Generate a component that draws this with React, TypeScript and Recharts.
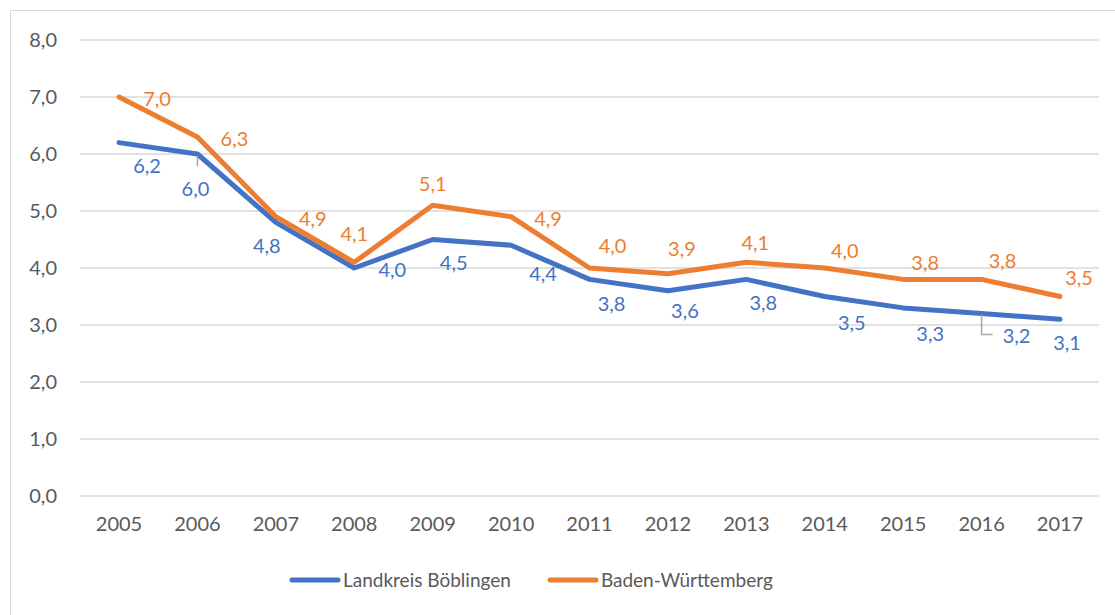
import { LineChart, Line, XAxis, YAxis, CartesianGrid, LabelList } from 'recharts';

const years = ['2005', '2006', '2007', '2008', '2009', '2010', '2011', '2012', '2013', '2014', '2015', '2016', '2017'];
const boeblingen = [6.2, 6.0, 4.8, 4.0, 4.5, 4.4, 3.8, 3.6, 3.8, 3.5, 3.3, 3.2, 3.1];
const badenWuerttemberg = [7.0, 6.3, 4.9, 4.1, 5.1, 4.9, 4.0, 3.9, 4.1, 4.0, 3.8, 3.8, 3.5];
const yTicks = [0, 1, 2, 3, 4, 5, 6, 7, 8];

// label placement relative to the point, as Excel placed them
const bwLabelOffsets = [
  [38, 1], [37, 1], [37, 1], [0, -29], [0, -22], [37, 1], [23, -23],
  [14, -26], [9, -20], [20, -18], [22, -17], [21, -19], [19, -20],
];
const lbLabelOffsets = [
  [28, 22], [-2, 34], [-9, 23], [38, 1], [21, 22], [32, 28], [22, 24],
  [17, 19], [17, 23], [27, 25], [27, 25], [35, 21], [7, 23],
];

const data = years.map((year, i) => ({
  year,
  lb: boeblingen[i],
  bw: badenWuerttemberg[i],
}));

const BLUE = '#4472C4';
const ORANGE = '#ED7D31';
const GREY_TEXT = '#595959';
const GRID = '#D9D9D9';
const FONT = 'Lato, "Open Sans", sans-serif';

const fmt = (v: number) => v.toFixed(1).replace('.', ',');

function makeLabel(offsets: number[][], color: string, leaders: boolean) {
  return (props: any) => {
    const { x, y, index, value } = props;
    const [dx, dy] = offsets[index] || [0, 0];
    let leader = null;
    if (leaders && index === 1) {
      leader = <line x1={x} y1={y + 2} x2={x} y2={y + 12} stroke="#A6A6A6" strokeWidth={1.5} />;
    }
    if (leaders && index === 11) {
      leader = (
        <polyline
          points={`${x},${y + 1} ${x},${y + 21} ${x + 11},${y + 21}`}
          fill="none"
          stroke="#A6A6A6"
          strokeWidth={1.5}
        />
      );
    }
    return (
      <g>
        {leader}
        <text
          x={x + dx}
          y={y + dy}
          textAnchor="middle"
          dominantBaseline="central"
          fill={color}
          fontSize={20}
          fontFamily={FONT}
        >
          {fmt(Number(value))}
        </text>
      </g>
    );
  };
}

const legendItems = [
  { name: 'Landkreis Böblingen', color: BLUE },
  { name: 'Baden-Württemberg', color: ORANGE },
];

function ChartLegend() {
  return (
    <div
      style={{
        position: 'absolute',
        left: 289,
        top: 567,
        display: 'flex',
        gap: 36,
        fontFamily: FONT,
        fontSize: 19,
        color: GREY_TEXT,
        lineHeight: '26px',
      }}
    >
      {legendItems.map((it) => (
        <div key={it.name} style={{ display: 'flex', alignItems: 'center' }}>
          <svg width={52} height={8} style={{ marginRight: 2 }}>
            <line x1={3} y1={4} x2={49} y2={4} stroke={it.color} strokeWidth={5} strokeLinecap="round" />
          </svg>
          <span>{it.name}</span>
        </div>
      ))}
    </div>
  );
}

export default function App() {
  return (
    <div style={{ position: 'absolute', left: 0, top: 0, width: 1115, height: 615, overflow: 'hidden', background: '#fff' }}>
      <div
        style={{
          position: 'absolute',
          left: 10,
          top: 10,
          width: 1120,
          height: 620,
          borderLeft: `1.5px solid ${GRID}`,
          borderTop: `1.5px solid ${GRID}`,
        }}
      />
      <div style={{ position: 'absolute', left: 0, top: 0 }}>
        <LineChart width={1115} height={615} data={data} margin={{ top: 40, right: 16, bottom: 89, left: 0 }}>
          <CartesianGrid vertical={false} stroke={GRID} strokeWidth={1.3} />
          <XAxis
            dataKey="year"
            height={30}
            axisLine={false}
            tickLine={false}
            tickSize={0}
            tickMargin={21}
            padding={{ left: 39, right: 39 }}
            tick={{ fill: GREY_TEXT, fontSize: 20, fontFamily: FONT }}
            interval={0}
          />
          <YAxis
            width={80}
            domain={[0, 8]}
            ticks={yTicks}
            axisLine={false}
            tickLine={false}
            tickSize={0}
            tickMargin={23}
            tickFormatter={fmt}
            tick={{ fill: GREY_TEXT, fontSize: 20, fontFamily: FONT }}
          />
          <Line
            dataKey="lb"
            name="Landkreis Böblingen"
            stroke={BLUE}
            strokeWidth={5}
            strokeLinecap="round"
            strokeLinejoin="round"
            dot={false}
            activeDot={false}
            isAnimationActive={false}
          >
            <LabelList dataKey="lb" content={makeLabel(lbLabelOffsets, BLUE, true)} />
          </Line>
          <Line
            dataKey="bw"
            name="Baden-Württemberg"
            stroke={ORANGE}
            strokeWidth={5}
            strokeLinecap="round"
            strokeLinejoin="round"
            dot={false}
            activeDot={false}
            isAnimationActive={false}
          >
            <LabelList dataKey="bw" content={makeLabel(bwLabelOffsets, ORANGE, false)} />
          </Line>
        </LineChart>
      </div>
      <ChartLegend />
    </div>
  );
}
